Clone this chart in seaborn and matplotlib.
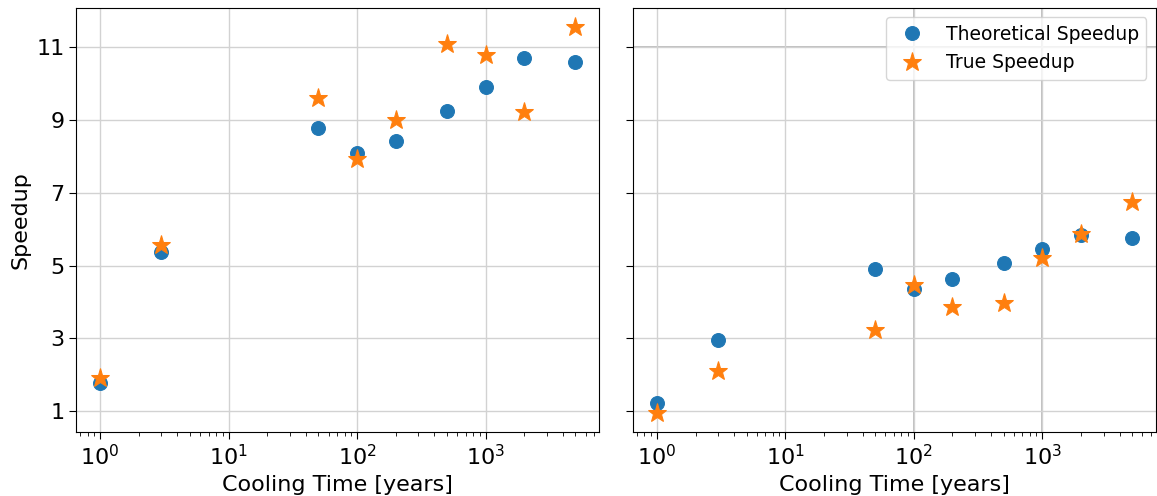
import matplotlib
matplotlib.use("Agg")
import matplotlib.pyplot as plt
import seaborn as sns
import pandas as pd

cooling_time = [1, 3, 50, 100, 200, 500, 1000, 2000, 5000]

left_theoretical = [1.79, 5.38, 8.78, 8.10, 8.42, 9.26, 9.90, 10.70, 10.60]
left_true = [1.92, 5.57, 9.60, 7.92, 9.00, 11.10, 10.78, 9.22, 11.55]

right_theoretical = [1.24, 2.95, 4.91, 4.35, 4.62, 5.08, 5.47, 5.83, 5.76]
right_true = [0.96, 2.10, 3.22, 4.47, 3.87, 3.97, 5.22, 5.87, 6.74]

y_ticks = [1, 3, 5, 7, 9, 11]

plt.rcParams["font.family"] = ["DejaVu Sans"]

fig, axes = plt.subplots(1, 2, figsize=(11.57, 4.96), dpi=100, sharey=True)
fig.subplots_adjust(left=0.066, right=0.999, top=0.984, bottom=0.129, wspace=0.065)

panels = [(left_theoretical, left_true), (right_theoretical, right_true)]

for i, (ax, (theo, true)) in enumerate(zip(axes, panels)):
    df = pd.DataFrame({"t": cooling_time, "theo": theo, "true": true})
    ax.set_xscale("log")
    ax.grid(True, color="#d2d2d2", linewidth=1.0, zorder=0)
    ax.set_axisbelow(True)
    sns.lineplot(data=df, x="t", y="theo", ax=ax, marker="o", markersize=10,
                 linestyle="none", color="#1f77b4", markeredgecolor="#1f77b4",
                 label="Theoretical Speedup", sort=False, zorder=3)
    sns.lineplot(data=df, x="t", y="true", ax=ax, marker="*", markersize=14,
                 linestyle="none", color="#ff7f0e", markeredgecolor="#ff7f0e",
                 label="True Speedup", sort=False, zorder=4)
    ax.set_xlabel("Cooling Time [years]", fontsize=16)
    ax.set_ylabel("Speedup" if i == 0 else "", fontsize=16)
    ax.set_yticks(y_ticks)
    ax.tick_params(axis="both", which="major", labelsize=16, length=5)
    ax.tick_params(axis="both", which="minor", length=3)
    if i == 0:
        ax.get_legend().remove()
    else:
        # heavier reference lines on the right panel
        for yv in [11]:
            ax.axhline(yv, color="#b4b4b4", linewidth=1.2, zorder=0.5)
        for xv in [100, 1000]:
            ax.axvline(xv, color="#b4b4b4", linewidth=1.2, zorder=0.5)
        ax.legend(loc="upper right", fontsize=13.5, handletextpad=0.8,
                  borderpad=0.4)

fig.savefig("out.png", dpi=100)
